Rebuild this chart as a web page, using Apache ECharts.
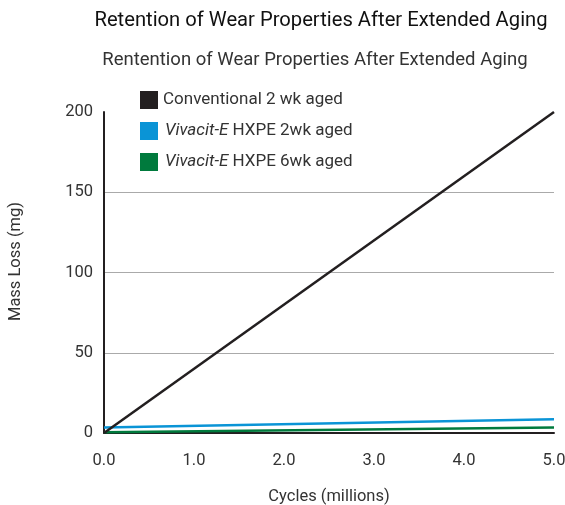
<!DOCTYPE html>
<html>
<head>
<meta charset="utf-8">
<script src="https://cdn.jsdelivr.net/npm/echarts@6/dist/echarts.min.js"></script>
<style>
  html, body { margin: 0; padding: 0; background: #fff; }
  #chart { width: 565px; height: 505px; }
</style>
</head>
<body>
<div id="chart"></div>
<script>
// Cycles (millions) and mass loss (mg) at start and end of the test
const cycles = [0, 5];
const conventional2wk = [0, 200];
const vivacit2wk = [3.5, 8.5];
const vivacit6wk = [0.5, 3.5];
const seriesNames = ['Conventional 2 wk aged', 'Vivacit-E HXPE 2wk aged', 'Vivacit-E HXPE 6wk aged'];
const seriesColors = ['#231f20', '#0a94d6', '#007a3d'];
const yTicks = [0, 50, 100, 150, 200];

const FONT = 'Roboto, "Noto Sans", sans-serif';
const chart = echarts.init(document.getElementById('chart'));

function pairs(ys) { return cycles.map((x, i) => [x, ys[i]]); }

chart.setOption({
  animation: false,
  backgroundColor: '#fff',
  textStyle: { fontFamily: FONT },
  title: [
    { text: 'Retention of Wear Properties After Extended Aging', left: 316, top: 6, textAlign: 'center',
      textStyle: { fontFamily: FONT, fontSize: 20.2, fontWeight: 'normal', color: '#111' } },
    { text: 'Rentention of Wear Properties After Extended Aging', left: 310, top: 46, textAlign: 'center',
      textStyle: { fontFamily: FONT, fontSize: 18.5, fontWeight: 'normal', color: '#333' } }
  ],
  legend: {
    orient: 'vertical', left: 135, top: 86, itemWidth: 18, itemHeight: 18, itemGap: 13,
    icon: 'rect',
    data: seriesNames,
    formatter: function (name) {
      if (name.indexOf('Vivacit-E') === 0) {
        return '{it|Vivacit-E}{n|' + name.slice(9) + '}';
      }
      return '{n|' + name + '}';
    },
    textStyle: {
      rich: {
        it: { fontFamily: FONT, fontSize: 17, fontStyle: 'italic', color: '#333', padding: [0, 0, 0, 2] },
        n: { fontFamily: FONT, fontSize: 17, color: '#333' }
      }
    }
  },
  grid: { left: 104, right: 11, top: 112, bottom: 72, outerBoundsMode: 'none', containLabel: false },
  xAxis: {
    type: 'value', min: 0, max: 5, interval: 1, offset: 4,
    name: 'Cycles (millions)', nameLocation: 'middle', nameGap: 51,
    nameTextStyle: { fontFamily: FONT, fontSize: 16.5, color: '#333' },
    axisLine: { lineStyle: { color: '#231f20', width: 2 } },
    axisTick: { show: false },
    splitLine: { show: false },
    axisLabel: { fontFamily: FONT, fontSize: 16.5, color: '#333', margin: 15,
      formatter: v => v.toFixed(1) }
  },
  yAxis: {
    type: 'value', min: yTicks[0], max: yTicks[yTicks.length - 1], interval: 50,
    name: 'Mass Loss (mg)', nameLocation: 'middle', nameGap: 80, nameRotate: 90,
    nameTextStyle: { fontFamily: FONT, fontSize: 16.5, color: '#333', padding: [0, 0, 0, 22] },
    axisLine: { show: true, lineStyle: { color: '#231f20', width: 2 } },
    axisTick: { show: false },
    axisLabel: { fontFamily: FONT, fontSize: 16.5, color: '#333', margin: 11 },
    splitLine: { show: true, lineStyle: { color: '#aaa', width: 1 },
      showMinLine: false, showMaxLine: false }
  },
  series: seriesNames.map((name, i) => ({
    name: name,
    type: 'line',
    data: pairs([conventional2wk, vivacit2wk, vivacit6wk][i]),
    showSymbol: false,
    color: seriesColors[i],
    lineStyle: { width: 2.5, color: seriesColors[i] },
    z: 3 - i
  }))
});
</script>
</body>
</html>
